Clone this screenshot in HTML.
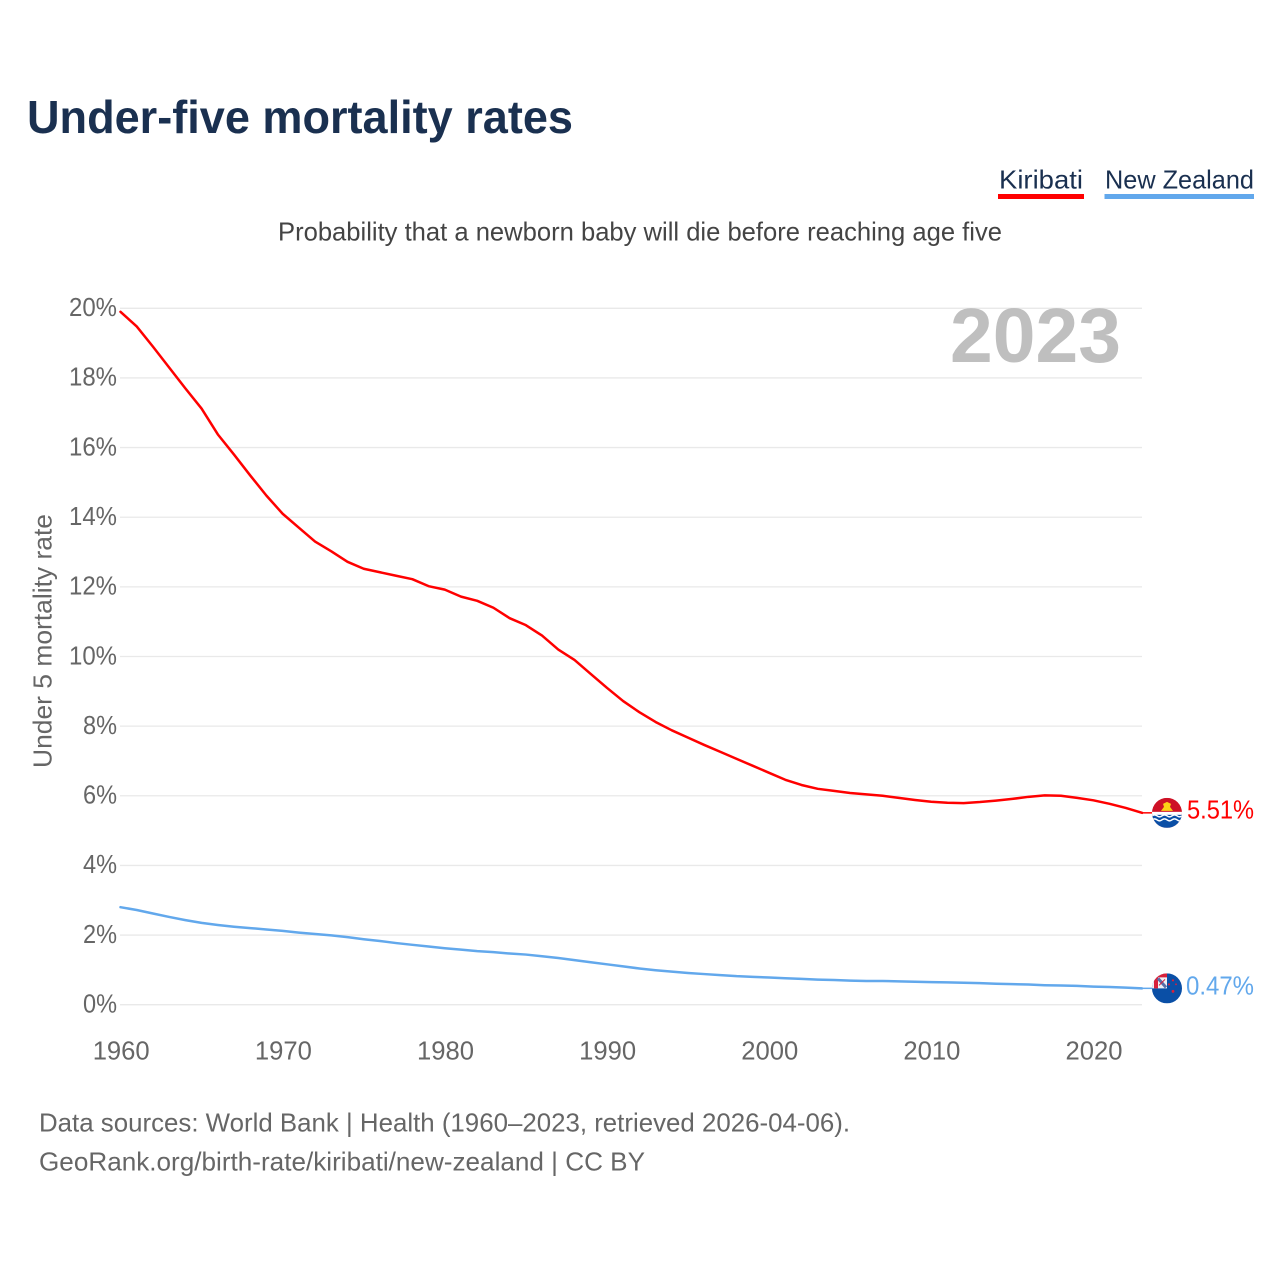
<!DOCTYPE html>
<html lang="en">
<head>
<meta charset="utf-8">
<title>Under-five mortality rates</title>
<style>
html,body{margin:0;padding:0;background:#fff}
svg{display:block}
text{font-family:"Liberation Sans",sans-serif}
</style>
</head>
<body>
<svg id="chart" xmlns="http://www.w3.org/2000/svg" width="1280" height="1280" viewBox="0 0 1280 1280">
  <defs>
    <clipPath id="flag-clip"><circle cx="0" cy="0" r="15"></circle></clipPath>
  </defs>
  <rect width="1280" height="1280" fill="#fff"></rect>
  <text x="27" y="133" font-size="46" font-weight="700" fill="#1a3050" textLength="546" lengthAdjust="spacingAndGlyphs">Under-five mortality rates</text>

  <g>
    <text x="999" y="188.500" font-size="26" fill="#1a3050" textLength="84" lengthAdjust="spacingAndGlyphs">Kiribati</text>
    <rect x="998" y="194" width="86" height="5" fill="#ff0000"></rect>
  </g>
  <g>
    <text x="1105" y="188.500" font-size="26" fill="#1a3050" textLength="149" lengthAdjust="spacingAndGlyphs">New Zealand</text>
    <rect x="1104.500" y="194" width="149.500" height="5" fill="#62a8ec"></rect>
  </g>

  <text x="278" y="240.500" font-size="26" fill="#444" textLength="724" lengthAdjust="spacingAndGlyphs">Probability that a newborn baby will die before reaching age five</text>

  <text transform="translate(51.500,768) rotate(-90)" x="0" y="0" font-size="26" fill="#666" textLength="254" lengthAdjust="spacingAndGlyphs">Under 5 mortality rate</text>

  <g id="grid"></g>
  <g id="y-ticks"></g>
  <g id="x-ticks"></g>

  <text x="950" y="362" font-size="77" font-weight="700" fill="#bfbfbf" textLength="171" lengthAdjust="spacingAndGlyphs">2023</text>

  <path id="line-kiribati" fill="none" stroke="#ff0000" stroke-width="2.500" stroke-linejoin="round" stroke-linecap="round"></path>
  <path id="line-new-zealand" fill="none" stroke="#62a8ec" stroke-width="2.500" stroke-linejoin="round" stroke-linecap="round"></path>

  <line id="leader-kiribati" stroke="#ff0000" stroke-width="1.500"></line>
  <line id="leader-new-zealand" stroke="#62a8ec" stroke-width="1.500"></line>

  <g id="flag-kiribati">
    <g clip-path="url(#flag-clip)">
      <rect x="-15" y="-15" width="30" height="30" fill="#ce1126"></rect>
      <path d="M-6 -2 L-3 -6 L-4 -9 L0 -11 L4 -9 L3 -6 L6 -2 Z" fill="#fcd116"></path>
      <rect x="-15" y="-1" width="30" height="16" fill="#fff"></rect>
      <rect x="-15" y="2" width="30" height="13" fill="#0a4fa6"></rect>
      <path d="M-15 3 q2.500 -2 5 0 t5 0 t5 0 t5 0 t5 0 t5 0" fill="none" stroke="#fff" stroke-width="1.500"></path>
      <path d="M-15 7 q2.500 -2 5 0 t5 0 t5 0 t5 0 t5 0 t5 0" fill="none" stroke="#fff" stroke-width="1.500"></path>
    </g>
  </g>
  <g id="flag-new-zealand">
    <g clip-path="url(#flag-clip)">
      <rect x="-15" y="-15" width="30" height="30" fill="#0a4fa6"></rect>
      <path d="M-15 -15 H0 V0 H-15 Z" fill="#f0f0f5"></path>
      <path d="M-13 -15 H0 V-11 H-13 Z M-13 -15 H-9 V0 H-13 Z" fill="#d8213b"></path>
      <path d="M-9 -10 L-1 -1" stroke="#5a6ea8" stroke-width="3"></path>
      <path d="M-8 -3 L-2 -9" stroke="#d8213b" stroke-width="1"></path>
      <circle cx="6" cy="-8" r="1.100" fill="#d8213b"></circle>
      <circle cx="2" cy="-4" r="1.100" fill="#d8213b"></circle>
      <circle cx="9" cy="-4" r="0.900" fill="#d8213b"></circle>
      <circle cx="6" cy="3" r="1.400" fill="#d8213b"></circle>
    </g>
  </g>

  <text id="value-kiribati" x="1187" font-size="26" fill="#ff0000" textLength="67" lengthAdjust="spacingAndGlyphs"></text>
  <text id="value-new-zealand" x="1186" font-size="26" fill="#62a8ec" textLength="68" lengthAdjust="spacingAndGlyphs"></text>

  <text x="39" y="1131.500" font-size="26" fill="#666" textLength="811" lengthAdjust="spacingAndGlyphs">Data sources: World Bank | Health (1960–2023, retrieved 2026-04-06).</text>
  <text x="39" y="1170.500" font-size="26" fill="#666" textLength="606" lengthAdjust="spacingAndGlyphs">GeoRank.org/birth-rate/kiribati/new-zealand | CC BY</text>
</svg>
<script>
const firstYear = 1960;
const kiribati = [19.9,19.48,18.9,18.3,17.7,17.12,16.38,15.8,15.2,14.62,14.1,13.7,13.3,13.02,12.72,12.52,12.42,12.32,12.22,12.02,11.92,11.72,11.6,11.4,11.1,10.9,10.6,10.2,9.9,9.5,9.1,8.72,8.4,8.12,7.88,7.67,7.46,7.26,7.06,6.86,6.66,6.46,6.31,6.2,6.14,6.08,6.04,6.0,5.94,5.88,5.83,5.8,5.79,5.82,5.86,5.91,5.97,6.01,6.0,5.94,5.87,5.77,5.65,5.51];
const newZealand = [2.8,2.72,2.62,2.52,2.43,2.35,2.29,2.24,2.2,2.16,2.12,2.07,2.03,1.99,1.94,1.88,1.83,1.77,1.72,1.67,1.62,1.58,1.54,1.51,1.47,1.44,1.39,1.34,1.28,1.22,1.16,1.1,1.04,0.99,0.95,0.91,0.88,0.85,0.82,0.8,0.78,0.76,0.74,0.72,0.71,0.69,0.68,0.68,0.67,0.66,0.65,0.64,0.63,0.62,0.6,0.59,0.58,0.56,0.55,0.54,0.52,0.51,0.49,0.47];
const yTicks = [0,2,4,6,8,10,12,14,16,18,20];
const xTicks = [1960,1970,1980,1990,2000,2010,2020];

const NS = 'http://www.w3.org/2000/svg';
function xScale(year){ return 120.5 + (year - 1960) * (1142 - 120.5) / 63; }
function yScale(v){ return 1004.7 - v * 34.82; }
function linePath(values){
  return values.map(function(v, i){
    return (i ? 'L' : 'M') + xScale(firstYear + i).toFixed(2) + ' ' + yScale(v).toFixed(2);
  }).join(' ');
}

const grid = document.getElementById('grid');
const yG = document.getElementById('y-ticks');
const xG = document.getElementById('x-ticks');

yTicks.forEach(function(t){
  const l = document.createElementNS(NS, 'line');
  
  
  l.setAttribute('x1', 120);
  l.setAttribute('x2', 1142);
  l.setAttribute('y1', yScale(t));
  l.setAttribute('y2', yScale(t));
  l.setAttribute('stroke', '#e9e9e9');
  l.setAttribute('stroke-width', '1.300');
  grid.appendChild(l);

  const s = document.createElementNS(NS, 'text');
  
  
  const label = t + '%';
  const w = label.length === 3 ? 48 : 34;
  s.setAttribute('x', 117 - w);
  s.setAttribute('y', yScale(t) + 7.800);
  s.setAttribute('font-size', '26');
  s.setAttribute('fill', '#666');
  s.setAttribute('textLength', w);
  s.setAttribute('lengthAdjust', 'spacingAndGlyphs');
  s.textContent = label;
  yG.appendChild(s);
});

xTicks.forEach(function(t){
  const s = document.createElementNS(NS, 'text');
  
  
  s.setAttribute('x', xScale(t) + 0.700 - 28.500);
  s.setAttribute('y', 1059.500);
  s.setAttribute('font-size', '26');
  s.setAttribute('fill', '#666');
  s.setAttribute('textLength', 57);
  s.setAttribute('lengthAdjust', 'spacingAndGlyphs');
  s.textContent = String(t);
  xG.appendChild(s);
});

document.getElementById('line-kiribati').setAttribute('d', linePath(kiribati));
document.getElementById('line-new-zealand').setAttribute('d', linePath(newZealand));

function endCap(values, key, labelOffset){
  const last = values[values.length - 1];
  const y = yScale(last);
  const leader = document.getElementById('leader-' + key);
  leader.setAttribute('x1', 1142);
  leader.setAttribute('x2', 1153);
  leader.setAttribute('y1', y);
  leader.setAttribute('y2', y);
  document.getElementById('flag-' + key).setAttribute('transform', 'translate(1167,' + y + ')');
  const v = document.getElementById('value-' + key);
  v.setAttribute('y', y + labelOffset);
  v.textContent = last.toFixed(2) + '%';
}
endCap(kiribati, 'kiribati', 5.500);
endCap(newZealand, 'new-zealand', 6);
</script>
</body>
</html>
